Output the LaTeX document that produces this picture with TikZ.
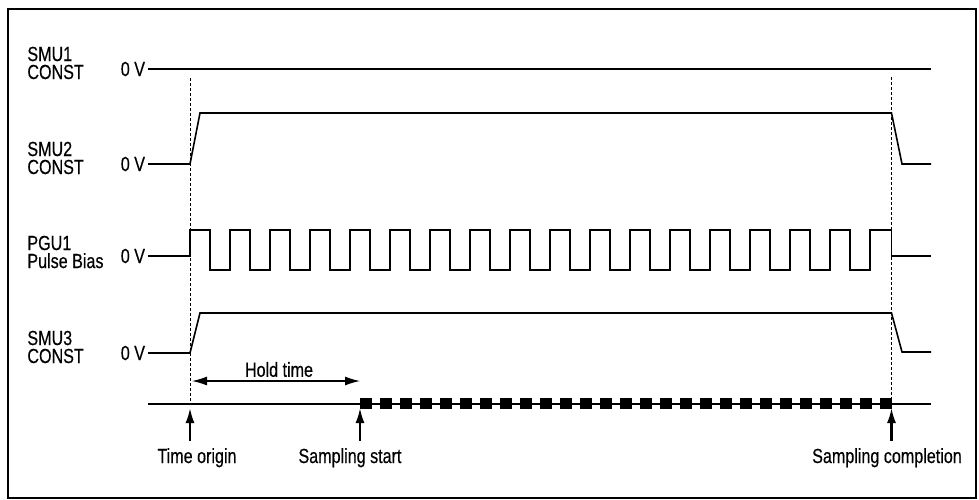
\documentclass[tikz,border=0pt]{standalone}
\usepackage{fontspec}
\setmainfont{Liberation Sans}[FakeStretch=0.79,FakeBold=0.35]
\usetikzlibrary{arrows.meta}

\begin{document}
\begin{tikzpicture}[x=0.5pt,y=-0.5pt,
    every node/.style={font=\fontsize{10.2}{9}\selectfont,inner sep=0pt},
    chlabel/.style={anchor=west,align=left},
    zerolabel/.style={anchor=east,inner xsep=1.3pt},
    eventlabel/.style={anchor=base,inner ysep=3.5pt},
    wave/.style={line width=0.8pt,line join=miter},
    marker/.style={line width=0.4pt,dash pattern=on 1.5pt off 1pt},
    uparrow/.style={line width=1.1pt,-{Latex[length=7.5pt,width=4.5pt]},shorten >=2pt},
    holdarrow/.style={line width=0.6pt,{Latex[length=7.5pt,width=4.5pt]}-{Latex[length=7.5pt,width=4.5pt]}}]
    \useasboundingbox (0,0) rectangle (979,499);
    \draw[line width=1pt] (8,9) rectangle (976,498);

    % time marks
    \coordinate (t0) at (190,404);
    \coordinate (ts) at (360,404);
    \coordinate (tc) at (891.5,404);
    \draw[marker] (190,78) -- (t0);
    \draw[marker] (891.5,77) -- (tc);

    % smu1
    \node[chlabel] (smu1) at (27,63) {SMU1\\CONST};
    \node[zerolabel] (z1) at (148,69) {0 V};
    \draw[wave] (z1.east) -- (931,69);

    % smu2
    \node[chlabel] (smu2) at (27,158) {SMU2\\CONST};
    \node[zerolabel] (z2) at (148,164) {0 V};
    \draw[wave] (z2.east) -- (190,164) -- (200,113) -- (891.5,113) -- (902,164) -- (931,164);

    % pgu1
    \node[chlabel] (pgu1) at (27,252) {PGU1\\Pulse Bias};
    \node[zerolabel] (z3) at (148,256) {0 V};
    \draw[wave] (z3.east) -- (190,256) -- (190,230)
        \foreach \k in {1,...,17}{ -- ++(20,0) -- ++(0,40) -- ++(20,0) -- ++(0,-40)}
        -- (891.5,230) -- (891.5,256) -- (931,256);

    % smu3
    \node[chlabel] (smu3) at (27,347) {SMU3\\CONST};
    \node[zerolabel] (z4) at (148,353) {0 V};
    \draw[wave] (z4.east) -- (190,353) -- (200,313) -- (891.5,313) -- (902,352) -- (931,352);

    % sampling
    \coordinate (h0) at (192,381);
    \coordinate (h1) at (360,381);
    \draw[holdarrow] (h0) -- (h1);
    \node (hold) at (279,369.5) {Hold time};
    \draw[line width=0.6pt] (148,404) -- (931,404);
    \foreach \k in {0,...,26}
      \fill (360+20*\k,398) rectangle ++(11.5,11);

    % events
    \node[eventlabel] (orig) at (197,463) {Time origin};
    \node[eventlabel] (start) at (350,463) {Sampling start};
    \node[eventlabel] (compl) at (887,463) {Sampling completion};
    \draw[uparrow] (orig.north -| t0) -- (t0);
    \draw[uparrow] (start.north -| ts) -- (ts);
    \draw[uparrow] (compl.north -| tc) -- (tc);
\end{tikzpicture}
\end{document}
